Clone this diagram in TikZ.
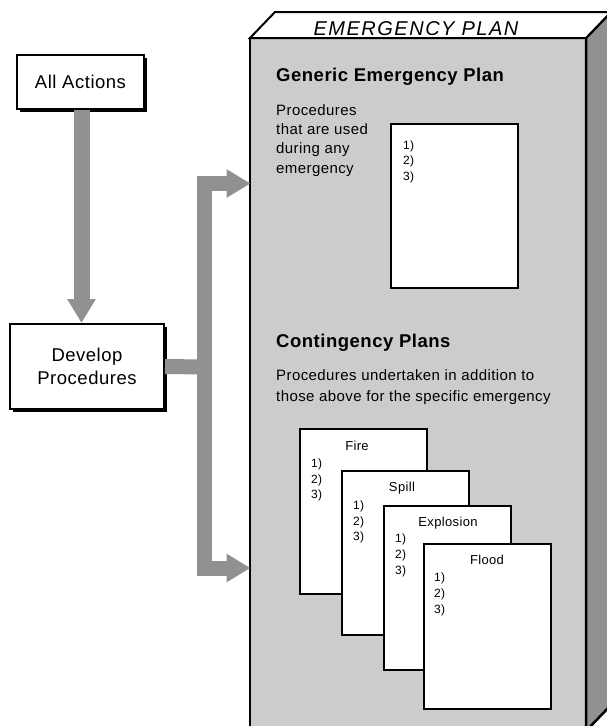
\documentclass[tikz,border=0pt]{standalone}
\usepackage{fontspec}
\setmainfont[LetterSpace=2.8]{Liberation Sans}
\newfontfamily\titlefont[LetterSpace=7.5]{Liberation Sans}
\usetikzlibrary{arrows.meta,shadows}
\definecolor{facegray}{RGB}{204,204,204}
\definecolor{sidegray}{RGB}{145,145,145}
\definecolor{arrgray}{RGB}{145,145,145}
\tikzset{
  actbox/.style={draw, line width=2pt, fill=white, align=center,
    font=\fontsize{18.5}{23}\selectfont,
    drop shadow={shadow xshift=3pt, shadow yshift=-3pt, fill=black, opacity=1}},
  sheet/.style={draw, line width=2pt, fill=white, minimum width=127pt, minimum height=164pt, inner sep=0pt},
  head/.style={inner sep=0pt, anchor=base west, font=\fontsize{18.5}{22}\selectfont\bfseries},
  body/.style={inner sep=0pt, anchor=base west, font=\fontsize{15}{19}\selectfont},
  ctitle/.style={inner sep=0pt, anchor=base, font=\fontsize{13}{15}\selectfont},
  item/.style={inner sep=0pt, anchor=base west, font=\fontsize{12}{14}\selectfont},
  fat/.style={draw=arrgray, line width=15pt, line join=miter}
}
\begin{document}
\begin{tikzpicture}[x=1pt,y=-1pt]
\useasboundingbox (0,0) rectangle (607,726);
\clip (0,0) rectangle (607,726);
% 3D plan box
\fill[facegray] (250,38) rectangle (586,731);
\filldraw[fill=sidegray, line width=2.5pt, line join=miter] (586,731) -- (586,38) -- (611,12) -- (611,705) -- cycle;
\filldraw[fill=white, line width=2pt, line join=miter] (250,38) -- (275,12) -- (611,12) -- (586,38) -- cycle;
\draw[line width=2.5pt] (250,731) -- (250,38) -- (586,38) -- (586,731);
\node[inner sep=0pt, anchor=base, font=\titlefont\fontsize{20}{24}\selectfont\itshape] (title) at (416,35) {EMERGENCY PLAN};
\coordinate (tA) at (250.5,183.5);
\coordinate (tB) at (250.5,568);
\coordinate (jn) at (204.5,367);
% left boxes
\node[actbox, minimum width=127pt, minimum height=54pt] (aa) at (80.5,82) {All Actions};
\node[actbox, minimum width=154pt, minimum height=85pt] (dev) at (87,366.5) {Develop\\Procedures};
% arrows
\draw[fat, line width=16pt, -{Triangle[length=24pt,width=27pt]}] ([xshift=1pt]aa.south) -- ([xshift=1pt]aa.south |- dev.north);
\draw[fat] (dev.east) -- (jn);
\draw[fat, {Triangle[length=24pt,width=27pt]}-{Triangle[length=24pt,width=27pt]}] (tA) -| (jn) |- (tB);
% generic
\node[head] (gh) at (276,81.7) {Generic Emergency Plan};
\node[body] (gp1) at (276,115.7) {Procedures};
\node[body] (gp2) at (276,134.5) {that are used};
\node[body] (gp3) at (276,153.5) {during any};
\node[body] (gp4) at (276,173) {emergency};
\node[sheet] (gbox) at (454.5,205.5) {};
% contingency
\node[head] (ch) at (276,347.3) {Contingency Plans};
\node[body] (cp1) at (276,380.7) {Procedures undertaken in addition to};
\node[body] (cp2) at (276,401) {those above for the specific emergency};
\node[sheet, minimum height=165pt] (fire) at (363,511.5) {};
\node[sheet] (spill) at (405.5,552.5) {};
\node[sheet] (expl) at (447.5,587.5) {};
\node[sheet, minimum height=165pt] (flood) at (487.5,626.5) {};
\node[ctitle] (tfire) at (357,450.7) {Fire};
\node[ctitle] (tspill) at (402,491.7) {Spill};
\node[ctitle] (texpl) at (448,526) {Explosion};
\node[ctitle] (tflood) at (487,564) {Flood};
\foreach \nm/\x/\y in {g/403/149, f/311/467.3, s/353/509.3, e/395/542.7, l/434/581.7}
  \foreach \t [count=\i] in {1),2),3)}
    \node[item] (\nm\i) at (\x,\y+15.7*\i-15.7) {\t};
\end{tikzpicture}
\end{document}
